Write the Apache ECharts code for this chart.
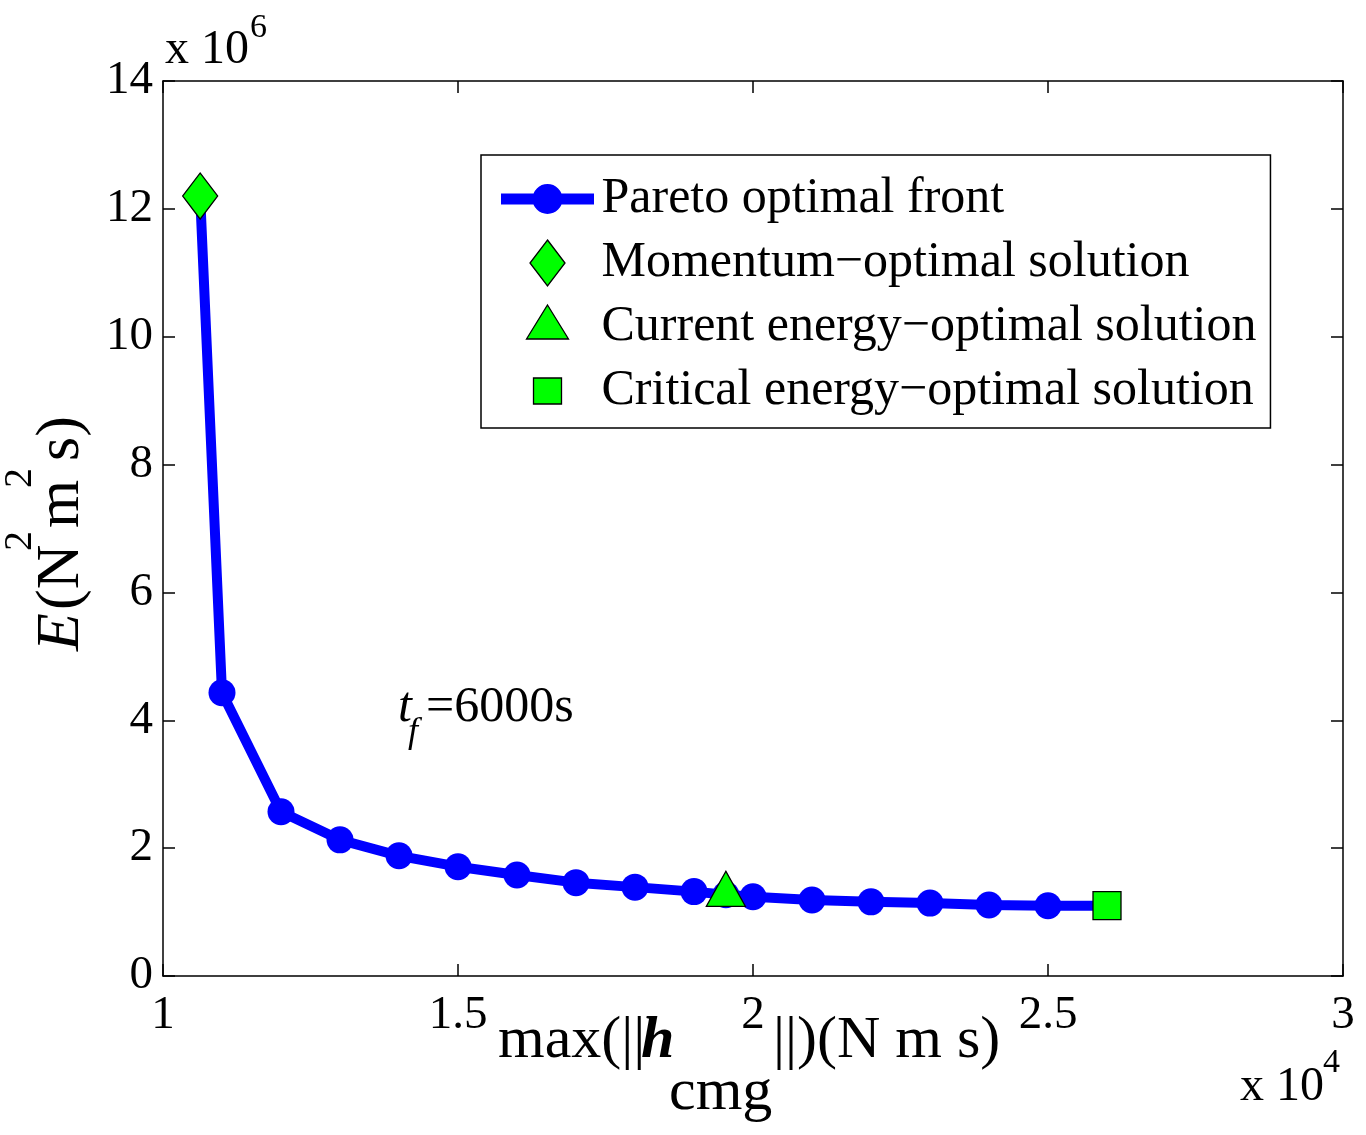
<!DOCTYPE html>
<html>
<head>
<meta charset="utf-8">
<script src="https://cdn.jsdelivr.net/npm/echarts@6/dist/echarts.min.js"></script>
<style>html,body{margin:0;padding:0;background:#fff;}#c{width:1366px;height:1135px;}</style>
</head>
<body>
<div id="c"></div>
<script>
// Data (x in units of 1e4 N m s, y in units of 1e6 N^2 m^2 s)
var paretoX = [1.063, 1.1, 1.2, 1.3, 1.4, 1.5, 1.6, 1.7, 1.8, 1.9, 1.954, 2.0, 2.1, 2.2, 2.3, 2.4, 2.5, 2.6];
var paretoY = [12.2, 4.43, 2.57, 2.13, 1.88, 1.71, 1.58, 1.46, 1.39, 1.32, 1.27, 1.24, 1.19, 1.16, 1.14, 1.11, 1.10, 1.10];
var momentumPt = [1.063, 12.2];
var currentPt = [1.954, 1.27];
var criticalPt = [2.6, 1.10];
var seriesNames = ['Pareto optimal front', 'Momentum\u2212optimal solution', 'Current energy\u2212optimal solution', 'Critical energy\u2212optimal solution'];
var xTicks = {min: 1, max: 3, step: 0.5};
var yTicks = {min: 0, max: 14, step: 2};

var FONT = 'Liberation Serif';
var chart = echarts.init(document.getElementById('c'), null, {renderer: 'canvas'});

var paretoData = paretoX.map(function (x, i) { return [x, paretoY[i]]; });

// legend icon shapes (with invisible move-to points fixing the icon box height)
var BOUNDS = 'M0,-23 M0,23 ';
var iconPareto = 'path://' + BOUNDS + 'M-46.5,-5.5 L46.5,-5.5 L46.5,5.5 L-46.5,5.5 Z ' +
  'M-15,0 A15,15 0 1 1 15,0 A15,15 0 1 1 -15,0 Z';
var iconDiamond = 'path://' + BOUNDS + 'M0,-23 L17.5,0 L0,23 L-17.5,0 Z';
var iconTriangle = 'path://' + BOUNDS + 'M0,-22 L21,12 L-21,12 Z';
var iconSquare = 'path://' + BOUNDS + 'M-14,-13 L14,-13 L14,13 L-14,13 Z';

function txt(text, x, y, fs, opts) {
  opts = opts || {};
  return {
    type: 'text', x: x, y: y, rotation: opts.rotation || 0, silent: true,
    style: {
      text: text, fontFamily: FONT, fontSize: fs, fill: '#000',
      fontStyle: opts.italic ? 'italic' : 'normal',
      fontWeight: opts.bold ? 'bold' : 'normal',
      align: 'left', verticalAlign: 'middle'
    }
  };
}

var axisCommon = {
  type: 'value',
  axisLine: {show: true, onZero: false, lineStyle: {color: '#000', width: 1.5}},
  axisTick: {show: true, inside: true, length: 12, lineStyle: {color: '#000', width: 1.5}},
  splitLine: {show: false}
};

var greenStyle = {color: '#00ff00', borderColor: '#000', borderWidth: 1.3, opacity: 1};

var option = {
  animation: false,
  backgroundColor: '#fff',
  grid: {left: 163, right: 23, top: 81, bottom: 159, containLabel: false},
  xAxis: [
    Object.assign({}, axisCommon, {
      position: 'bottom', min: xTicks.min, max: xTicks.max, interval: xTicks.step,
      axisLabel: {show: true, color: '#000', fontFamily: FONT, fontSize: 47, margin: 16}
    }),
    Object.assign({}, axisCommon, {
      position: 'top', min: xTicks.min, max: xTicks.max, interval: xTicks.step,
      axisLabel: {show: false}
    })
  ],
  yAxis: [
    Object.assign({}, axisCommon, {
      position: 'left', min: yTicks.min, max: yTicks.max, interval: yTicks.step,
      axisLabel: {show: true, color: '#000', fontFamily: FONT, fontSize: 47, margin: 10}
    }),
    Object.assign({}, axisCommon, {
      position: 'right', min: yTicks.min, max: yTicks.max, interval: yTicks.step,
      axisLabel: {show: false}
    })
  ],
  legend: {
    orient: 'vertical', left: 481, top: 155,
    padding: [19, 14, 12, 20],
    borderColor: '#000', borderWidth: 1.5, backgroundColor: '#fff',
    itemWidth: 98, itemHeight: 46, itemGap: 14,
    symbolKeepAspect: true,
    textStyle: {fontFamily: FONT, fontSize: 50, lineHeight: 46, color: '#000'},
    data: [
      {name: seriesNames[0], icon: iconPareto, itemStyle: {color: '#0000ff', borderWidth: 0}},
      {name: seriesNames[1], icon: iconDiamond, itemStyle: greenStyle},
      {name: seriesNames[2], icon: iconTriangle, itemStyle: greenStyle},
      {name: seriesNames[3], icon: iconSquare, itemStyle: greenStyle}
    ]
  },
  series: [
    {
      name: seriesNames[0], type: 'line', data: paretoData,
      xAxisIndex: 0, yAxisIndex: 0,
      symbol: 'circle', symbolSize: 27, showSymbol: true,
      lineStyle: {color: '#0000ff', width: 10},
      itemStyle: {color: '#0000ff'},
      z: 2
    },
    {
      name: seriesNames[1], type: 'scatter', data: [momentumPt],
      symbol: 'diamond', symbolSize: [35, 46],
      itemStyle: greenStyle,
      z: 3
    },
    {
      name: seriesNames[2], type: 'scatter', data: [currentPt],
      symbol: 'triangle', symbolSize: [39, 35], symbolOffset: [0, -6],
      itemStyle: greenStyle,
      z: 3
    },
    {
      name: seriesNames[3], type: 'scatter', data: [criticalPt],
      symbol: 'rect', symbolSize: [28, 28],
      itemStyle: greenStyle,
      z: 3
    }
  ],
  graphic: [
    // top exponent
    txt('x 10', 165, 50, 48),
    txt('6', 250, 28, 34),
    // bottom-right exponent
    txt('x 10', 1240, 1087, 48),
    txt('4', 1323, 1063, 34),
    // x axis title
    txt('max(||', 498, 1041, 60),
    txt('h', 641, 1041, 60, {italic: true, bold: true}),
    txt('cmg', 669, 1093, 60),
    txt('||)(N m s)', 773, 1041, 60),
    // y axis title (rotated)
    txt('E', 62, 651, 62, {rotation: Math.PI / 2, italic: true}),
    txt('(N', 62, 610, 62, {rotation: Math.PI / 2}),
    txt('2', 20, 551, 40, {rotation: Math.PI / 2}),
    txt('m', 62, 528, 62, {rotation: Math.PI / 2}),
    txt('2', 20, 488, 40, {rotation: Math.PI / 2}),
    txt('s)', 62, 461, 62, {rotation: Math.PI / 2}),
    // annotation
    txt('t', 398, 708, 50, {italic: true}),
    txt('f', 408, 733, 36, {italic: true}),
    txt('=6000s', 426, 708, 50)
  ]
};
chart.setOption(option);
</script>
</body>
</html>
